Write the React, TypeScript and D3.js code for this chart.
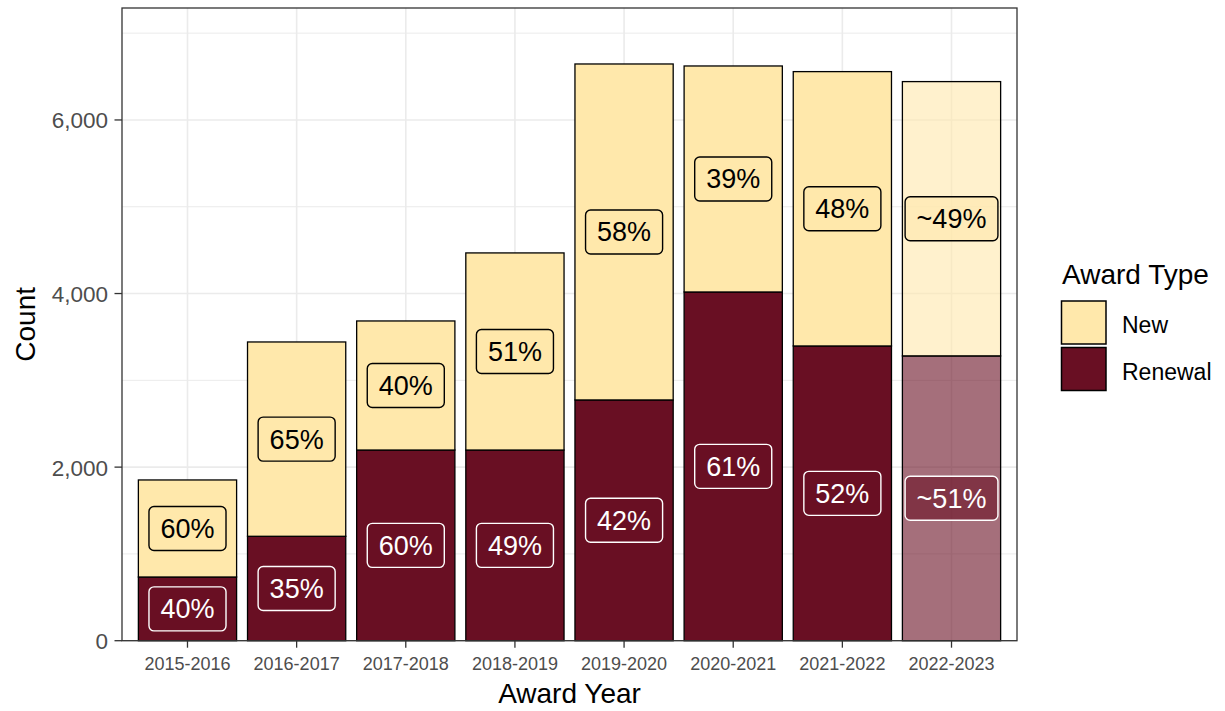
import React from "react";
import * as d3 from "d3";

const years = ["2015-2016", "2016-2017", "2017-2018", "2018-2019", "2019-2020", "2020-2021", "2021-2022", "2022-2023"];
const renewalCounts = [734, 1203, 2197, 2197, 2774, 4018, 3396, 3281];
const newCounts = [1118, 2239, 1487, 2271, 3871, 2604, 3161, 3161];
const newLabels = ["60%", "65%", "40%", "51%", "58%", "39%", "48%", "~49%"];
const renewalLabels = ["40%", "35%", "60%", "49%", "42%", "61%", "52%", "~51%"];
const estimatedYears = ["2022-2023"];
const yMajorTicks = [0, 2000, 4000, 6000];
const yMinorTicks = [1000, 3000, 5000, 7000];
const legendKeys = ["New", "Renewal"];

const W = 1225, H = 711;
const panel = { left: 122, right: 1017, top: 8, bottom: 640.7 };
const NEW_COL = "#FFE8AB";
const REN_COL = "#690F23";
const FONT = "'Liberation Sans', Arial, sans-serif";

function measure(text: string, size: number): number {
  try {
    const c = document.createElement("canvas");
    const ctx = c.getContext("2d");
    if (ctx) {
      ctx.font = `${size}px 'Liberation Sans', Arial, sans-serif`;
      return ctx.measureText(text).width;
    }
  } catch (e) {}
  return text.length * size * 0.55;
}

export default function App() {
  const x = d3.scaleBand<string>().domain(years).range([panel.left, panel.right]).paddingInner(0.1).paddingOuter(0.15);
  const y = d3.scaleLinear().domain([0, 7290]).range([panel.bottom, panel.top]);
  const fmt = d3.format(",");

  const rows = years.map((yr, i) => {
    const r = renewalCounts[i];
    const n = newCounts[i];
    return { yr, r, n, total: r + n, est: estimatedYears.includes(yr), nl: newLabels[i], rl: renewalLabels[i] };
  });

  const labelBox = (cx: number, cy: number, text: string, fill: string, stroke: string, textCol: string, op: number, key: string) => {
    const tw = measure(text, 27);
    const bw = tw + 23;
    const bh = 44;
    return (
      <g key={key}>
        <rect x={cx - bw / 2} y={cy - bh / 2} width={bw} height={bh} rx={5} ry={5} fill={fill} fillOpacity={op} stroke={stroke} strokeWidth={1.4} />
        <text x={cx} y={cy + 9.5} textAnchor="middle" fontSize={27} fontFamily={FONT} fill={textCol}>{text}</text>
      </g>
    );
  };

  return (
    <svg width={W} height={H} style={{ position: "absolute", left: 0, top: 0, display: "block" }} fontFamily={FONT}>
      <rect x={0} y={0} width={W} height={H} fill="#fff" />
      {/* grid */}
      {yMinorTicks.map((t) => (
        <line key={"mi" + t} x1={panel.left} x2={panel.right} y1={y(t)} y2={y(t)} stroke="#EBEBEB" strokeWidth={1} />
      ))}
      {yMajorTicks.map((t) => (
        <line key={"ma" + t} x1={panel.left} x2={panel.right} y1={y(t)} y2={y(t)} stroke="#EBEBEB" strokeWidth={1.6} />
      ))}
      {years.map((yr) => {
        const cx = (x(yr) as number) + x.bandwidth() / 2;
        return <line key={"vg" + yr} x1={cx} x2={cx} y1={panel.top} y2={panel.bottom} stroke="#EBEBEB" strokeWidth={1.6} />;
      })}
      {/* bars */}
      {rows.map((d) => {
        const x0 = x(d.yr) as number;
        const bw = x.bandwidth();
        const op = d.est ? 0.6 : 1;
        return (
          <g key={"b" + d.yr}>
            <rect x={x0} y={y(d.r)} width={bw} height={y(0) - y(d.r)} fill={REN_COL} fillOpacity={op} stroke="#000" strokeWidth={1.3} />
            <rect x={x0} y={y(d.total)} width={bw} height={y(d.r) - y(d.total)} fill={NEW_COL} fillOpacity={op} stroke="#000" strokeWidth={1.3} />
          </g>
        );
      })}
      {/* labels */}
      {rows.map((d) => {
        const cx = (x(d.yr) as number) + x.bandwidth() / 2;
        const op = d.est ? 0.6 : 1;
        return (
          <g key={"l" + d.yr}>
            {labelBox(cx, y(d.r + d.n / 2), d.nl, NEW_COL, "#000", "#000", op, "n")}
            {labelBox(cx, y(d.r / 2), d.rl, REN_COL, "#fff", "#fff", op, "r")}
          </g>
        );
      })}
      {/* panel border */}
      <rect x={panel.left} y={panel.top} width={panel.right - panel.left} height={panel.bottom - panel.top} fill="none" stroke="#333" strokeWidth={1.3} />
      {/* y axis */}
      {yMajorTicks.map((t) => (
        <g key={"yt" + t}>
          <line x1={panel.left - 7.5} x2={panel.left} y1={y(t)} y2={y(t)} stroke="#333" strokeWidth={1.3} />
          <text x={panel.left - 14} y={y(t) + 8.5} textAnchor="end" fontSize={22.5} fill="#4D4D4D">{fmt(t)}</text>
        </g>
      ))}
      {/* x axis */}
      {years.map((yr) => {
        const cx = (x(yr) as number) + x.bandwidth() / 2;
        return (
          <g key={"xt" + yr}>
            <line x1={cx} x2={cx} y1={panel.bottom} y2={panel.bottom + 7} stroke="#333" strokeWidth={1.3} />
            <text x={cx} y={670} textAnchor="middle" fontSize={18} fill="#4D4D4D">{yr}</text>
          </g>
        );
      })}
      <text x={(panel.left + panel.right) / 2} y={703} textAnchor="middle" fontSize={28} fill="#000">Award Year</text>
      <text transform={`translate(35, ${(panel.top + panel.bottom) / 2}) rotate(-90)`} textAnchor="middle" fontSize={28} fill="#000">Count</text>
      {/* legend */}
      <text x={1062} y={284} fontSize={28} fill="#000">Award Type</text>
      {legendKeys.map((k, i) => (
        <g key={"lg" + k}>
          <rect x={1061.5} y={301 + i * 46.5} width={44.5} height={43} fill={i === 0 ? NEW_COL : REN_COL} stroke="#000" strokeWidth={1.5} />
          <text x={1122} y={333 + i * 47} fontSize={23} fill="#000">{k}</text>
        </g>
      ))}
    </svg>
  );
}
